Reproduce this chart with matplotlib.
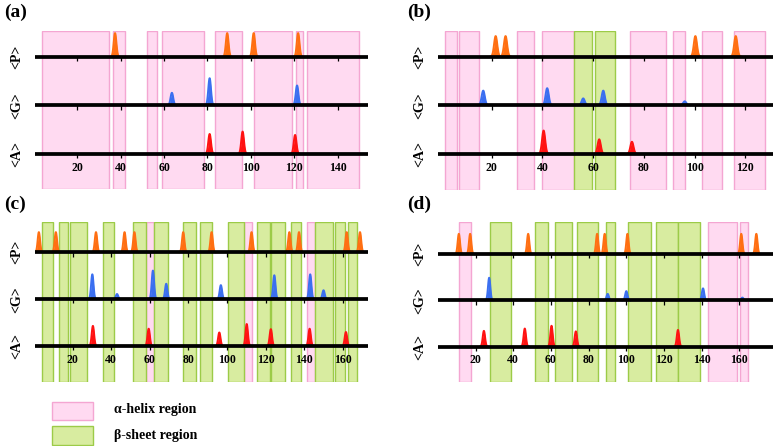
import numpy as np
import matplotlib
matplotlib.use("Agg")
import matplotlib.pyplot as plt
from matplotlib.patches import Rectangle

plt.rcParams['font.family'] = ['Liberation Serif', 'DejaVu Serif']
plt.rcParams['font.weight'] = 'bold'

HELIX_FC, HELIX_EC = '#ffdaf1', '#f4a6d2'
SHEET_FC, SHEET_EC = '#d8eca0', '#9ccb48'
P_COL, G_COL, A_COL = '#ff6f12', '#3b6ff0', '#ff1212'

# ---- panel (a) ----
a_xlim = (0.5, 154)
a_ticks = [20, 40, 60, 80, 100, 120, 140]
a_helix = [(3.5, 34.6), (36.6, 42.2), (52.3, 56.7), (59, 78.2), (83.6, 95.9),
           (101.6, 119), (120.7, 124.1), (126.1, 149.8)]
a_sheet = []
a_p_pos = [37.4, 89.1, 101.3, 121.8]
a_p_h = [0.49, 0.49, 0.49, 0.49]
a_g_pos = [63.6, 81, 121.3]
a_g_h = [0.26, 0.56, 0.41]
a_a_pos = [81, 96.2, 120.4]
a_a_h = [0.41, 0.46, 0.39]

# ---- panel (b) ----
b_xlim = (-1, 131)
b_ticks = [20, 40, 60, 80, 100, 120]
b_helix = [(1.6, 6.5), (7.2, 14.9), (30.1, 36.9), (39.7, 52.4), (74.7, 88.9),
           (91.6, 96.1), (102.9, 110.9), (115.5, 127.6)]
b_sheet = [(52.4, 59.6), (60.7, 68.8)]
b_p_pos = [21.6, 25.5, 100.3, 116.2]
b_p_h = [0.42, 0.42, 0.42, 0.42]
b_g_pos = [16.7, 41.9, 56.1, 64, 96.1]
b_g_h = [0.30, 0.35, 0.14, 0.30, 0.08]
b_a_pos = [40.5, 62.4, 75.3]
b_a_h = [0.48, 0.30, 0.25]

# ---- panel (c) ----
c_xlim = (0.5, 173.2)
c_ticks = [20, 40, 60, 80, 100, 120, 140, 160]
c_helix = [(57.8, 62.1), (108.9, 112.7), (141.2, 145.5)]
c_sheet = [(3.9, 9.9), (13.1, 17.4), (18.8, 27.3), (35.9, 41.4), (51.2, 57.8),
           (62.1, 69.2), (77, 83.7), (86, 92), (100.6, 108.9), (115.6, 122.2),
           (122.7, 130), (133, 138.3), (145.5, 155), (156.1, 161.2), (162.6, 167.2)]
c_p_pos = [2.5, 11.3, 32.1, 46.9, 52, 77.3, 92, 112.7, 132.3, 137.3, 162, 168.9]
c_p_h = [0.43] * 12
c_g_pos = [30.2, 43, 61.6, 68.5, 96.8, 124.5, 143.1, 150]
c_g_h = [0.53, 0.11, 0.61, 0.33, 0.30, 0.51, 0.53, 0.19]
c_a_pos = [30.5, 59.4, 96, 110.2, 122.7, 142.8, 161.6]
c_a_h = [0.43, 0.37, 0.29, 0.47, 0.36, 0.37, 0.30]

# ---- panel (d) ----
d_xlim = (0.2, 178)
d_ticks = [20, 40, 60, 80, 100, 120, 140, 160]
d_helix = [(11.1, 17.3), (143.3, 158.9), (160.3, 164.5)]
d_sheet = [(27.7, 38.7), (51.6, 58.5), (62.2, 71.4), (73.9, 85.2), (89.2, 94.2),
           (100.9, 113.3), (116, 127.4), (127.4, 138.9)]
d_p_pos = [11.1, 17.1, 47.9, 84.5, 88.5, 100.6, 161, 169]
d_p_h = [0.44] * 8
d_g_pos = [27.2, 90.1, 100, 140.7, 161.6]
d_g_h = [0.49, 0.14, 0.20, 0.26, 0.06]
d_a_pos = [24.4, 46.1, 60.3, 73.2, 127.4]
d_a_h = [0.34, 0.39, 0.45, 0.33, 0.36]

panels = [
    ('(a)', [35, 30.7, 368, 189.3], (-0.73, 2.54), a_xlim, a_ticks, a_helix, a_sheet,
     [(a_p_pos, a_p_h), (a_g_pos, a_g_h), (a_a_pos, a_a_h)]),
    ('(b)', [438.3, 30.7, 773.3, 190], (-0.74, 2.53), b_xlim, b_ticks, b_helix, b_sheet,
     [(b_p_pos, b_p_h), (b_g_pos, b_g_h), (b_a_pos, b_a_h)]),
    ('(c)', [35, 222.3, 368.3, 381.7], (-0.76, 2.64), c_xlim, c_ticks, c_helix, c_sheet,
     [(c_p_pos, c_p_h), (c_g_pos, c_g_h), (c_a_pos, c_a_h)]),
    ('(d)', [438.3, 222.3, 773.3, 381.7], (-0.76, 2.69), d_xlim, d_ticks, d_helix, d_sheet,
     [(d_p_pos, d_p_h), (d_g_pos, d_g_h), (d_a_pos, d_a_h)]),
]

W, H = 775, 446
fig = plt.figure(figsize=(W / 100, H / 100), dpi=100)

row_names = ['<P>', '<G>', '<A>']
row_base = [2, 1, 0]
row_cols = [P_COL, G_COL, A_COL]
width = 0.62

for label, (x0, y0, x1, y1), ylim, xlim, ticks, helix, sheet, series in panels:
    ax = fig.add_axes([x0 / W, 1 - y1 / H, (x1 - x0) / W, (y1 - y0) / H])
    ax.set_xlim(xlim)
    ax.set_ylim(ylim)
    ax.axis('off')

    for s, e in helix:
        ax.axvspan(s, e, fc=HELIX_FC, ec=HELIX_EC, lw=1.0, zorder=1)
    for s, e in sheet:
        ax.axvspan(s, e, fc=SHEET_FC, ec=SHEET_EC, lw=1.0, zorder=1)

    for name, base, col, (pos, hts) in zip(row_names, row_base, row_cols, series):
        for p, h in zip(pos, hts):
            xx = np.linspace(p - 2.0, p + 2.0, 60)
            yy = base + h * np.exp(-0.5 * ((xx - p) / width) ** 2)
            ax.fill_between(xx, base, yy, color=col, lw=0, zorder=3)
            ax.plot(xx, yy, color=col, lw=1.4, zorder=3)
        ax.plot(xlim, [base, base], color='black', lw=2.7, zorder=4,
                solid_capstyle='round')
        ax.vlines(ticks, base - 0.09, base, color='black', lw=0.9, zorder=4)
        ax.text(-0.055, (base - ylim[0]) / (ylim[1] - ylim[0]), name,
                transform=ax.transAxes, rotation=90, ha='center', va='center',
                fontsize=10, fontweight='bold')

    for t in ticks:
        ax.text(t, -0.29, str(t), ha='center', va='center', fontsize=8.5,
                fontweight='bold', zorder=5)

    fig.text((x0 - 31) / W, 1 - (y0 - 18) / H, label, ha='left', va='center',
             fontsize=14, fontweight='bold')

# legend
fig.add_artist(Rectangle((51.7 / W, 1 - 420 / H), 41 / W, 18.3 / H,
                         transform=fig.transFigure, fc=HELIX_FC, ec=HELIX_EC, lw=1.0))
fig.add_artist(Rectangle((51.7 / W, 1 - 445 / H), 41 / W, 19 / H,
                         transform=fig.transFigure, fc=SHEET_FC, ec=SHEET_EC, lw=1.0))
fig.text(114 / W, 1 - 410 / H, '\u03b1-helix region', ha='left', va='center',
         fontsize=10, fontweight='bold')
fig.text(114 / W, 1 - 436 / H, '\u03b2-sheet region', ha='left', va='center',
         fontsize=10, fontweight='bold')

fig.savefig('out.png', dpi=100)
